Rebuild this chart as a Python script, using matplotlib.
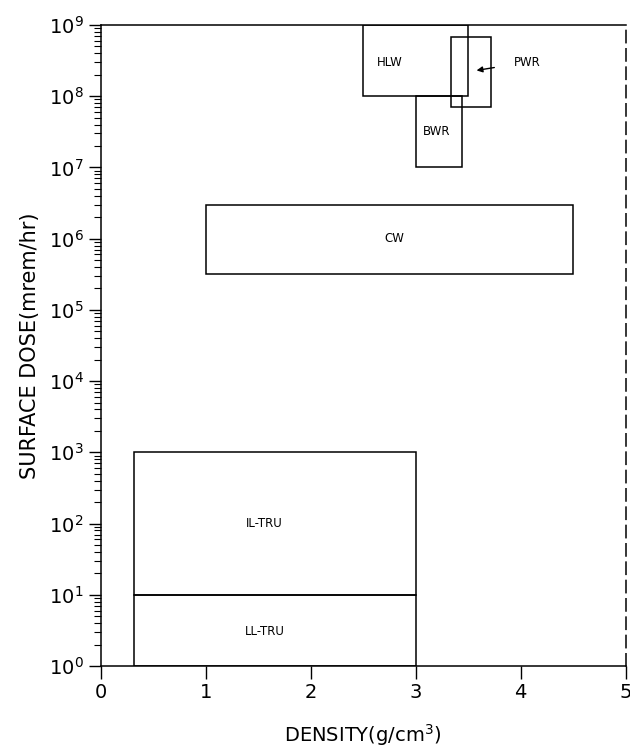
import matplotlib.pyplot as plt
from matplotlib.patches import Rectangle

# Waste categories as (density range, surface dose range)
names = ['HLW', 'PWR', 'BWR', 'CW', 'IL-TRU', 'LL-TRU']
dens_lo = [2.5, 3.34, 3.0, 1.0, 0.32, 0.32]
dens_hi = [3.5, 3.72, 3.44, 4.5, 3.0, 3.0]
dose_lo = [1e8, 7e7, 1e7, 3.2e5, 1e1, 1e0]
dose_hi = [1e9, 6.8e8, 1e8, 3e6, 1e3, 1e1]

# label positions (PWR is labelled outside with an arrow)
label_x = [2.75, 4.06, 3.2, 2.8, 1.56, 1.56]
label_y = [3e8, 3e8, 3.2e7, 1e6, 1e2, 3e0]

fig = plt.figure(figsize=(6.3, 7.52), dpi=100)
ax = fig.add_axes([0.160, 0.1144, 0.833, 0.8524])

for name, x0, x1, y0, y1 in zip(names, dens_lo, dens_hi, dose_lo, dose_hi):
    ax.add_patch(Rectangle((x0, y0), x1 - x0, y1 - y0, fill=False,
                           edgecolor='black', linewidth=1.1))

for name, lx, ly in zip(names, label_x, label_y):
    if name == 'PWR':
        ax.annotate(name, xy=(3.58, 2.3e8), xytext=(lx, ly),
                    ha='center', va='center', fontsize=8.5,
                    arrowprops=dict(arrowstyle='-|>', color='black', lw=1.0,
                                    shrinkA=12, shrinkB=0))
    else:
        ax.text(lx, ly, name, ha='center', va='center', fontsize=8.5)

ax.set_yscale('log')
ax.set_xlim(0, 5)
ax.set_ylim(1e0, 1e9)
ax.set_xticks([0, 1, 2, 3, 4, 5])

ax.tick_params(axis='both', which='major', labelsize=14, direction='out',
               length=9, width=1.0)
ax.tick_params(axis='y', which='minor', direction='out', length=5, width=0.8)

ax.spines['right'].set_linestyle((0, (8, 4)))
for sp in ax.spines.values():
    sp.set_linewidth(1.1)

ax.set_xlabel('DENSITY(g/cm$^3$)', fontsize=14, labelpad=14)
ax.set_ylabel('SURFACE DOSE(mrem/hr)', fontsize=15, labelpad=6)

fig.savefig('out.png', dpi=100)
